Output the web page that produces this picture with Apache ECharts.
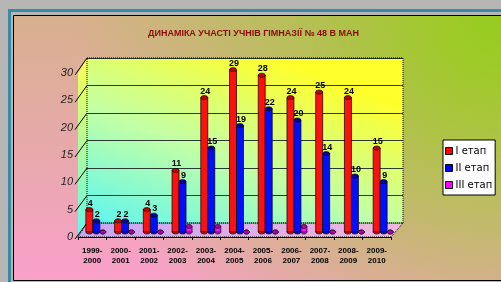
<!DOCTYPE html>
<html>
<head>
<meta charset="utf-8">
<script src="https://cdn.jsdelivr.net/npm/echarts@6/dist/echarts.min.js"></script>
<style>
  html, body { margin: 0; padding: 0; }
  #chart { width: 501px; height: 282px; }
</style>
</head>
<body>
<div id="chart"></div>
<script>
// навчальні роки та кількість учасників по етапах
var years = ['1999-2000', '2000-2001', '2001-2002', '2002-2003', '2003-2004', '2004-2005',
  '2005-2006', '2006-2007', '2007-2008', '2008-2009', '2009-2010'];
var stage1 = [4, 2, 4, 11, 24, 29, 28, 24, 25, 24, 15];
var stage2 = [2, 2, 3, 9, 15, 19, 22, 20, 14, 10, 9];
var stage3 = [0, 0, 0, 1, 1, 0, 0, 1, 0, 0, 0];
var seriesNames = ['I етап', 'II етап', 'III етап'];

var chart = echarts.init(document.getElementById('chart'));

// циліндр: тіло + верхня і нижня кришка
function cylinder(offset, width, body, top, withLabel) {
  return function (params, api) {
    var base = api.coord([api.value(0), 0]);
    var head = api.coord([api.value(0), api.value(1)]);
    var cx = base[0] + offset;
    var x = cx - width / 2;
    var kids = [
      { type: 'ellipse', shape: { cx: cx, cy: base[1], rx: width / 2, ry: 2 }, style: { fill: body, stroke: '#000', lineWidth: 0.7 } },
      { type: 'rect', shape: { x: x, y: head[1], width: width, height: base[1] - head[1] }, style: { fill: body, stroke: '#000', lineWidth: 0.7 } },
      { type: 'ellipse', shape: { cx: cx, cy: head[1], rx: width / 2, ry: 2 }, style: { fill: top, stroke: '#000', lineWidth: 0.7 } }
    ];
    if (withLabel) {
      kids.push({
        type: 'text', x: cx + 1, y: head[1] - 2,
        style: { text: String(api.value(1)), fill: '#000', align: 'center', verticalAlign: 'bottom',
          font: 'bold 9px "Liberation Sans", Arial, sans-serif' }
      });
    }
    return { type: 'group', children: kids };
  };
}

function pairs(arr) {
  return arr.map(function (v, i) { return [i, v]; });
}

var option = {
  animation: false,
  graphic: {
    elements: [
      { type: 'rect', id: 'bg0', z: -20, shape: { x: 0, y: 0, width: 501, height: 282 }, style: { fill: '#b6b6b6' } },
      { type: 'rect', id: 'bg1', z: -19, shape: { x: 9.5, y: 10.5, width: 600, height: 300 }, style: { fill: 'none', stroke: '#3a8aa6', lineWidth: 3 } },
      {
        type: 'rect', id: 'bg2', z: -18, shape: { x: 13.5, y: 15.5, width: 600, height: 265 },
        style: {
          fill: { type: 'linear', x: 0, y: 16, x2: 0, y2: 280, global: true,
            colorStops: [{ offset: 0, color: '#d8b08e' }, { offset: 0.6, color: '#eaa8b0' }, { offset: 1, color: '#faa0ca' }] },
          stroke: '#000', lineWidth: 1
        }
      },
      {
        type: 'rect', id: 'bg3', z: -17, shape: { x: 14, y: 16, width: 600, height: 264 },
        style: {
          fill: { type: 'radial', x: 501, y: 16, r: 430, global: true,
            colorStops: [{ offset: 0, color: 'rgba(150,204,30,1)' }, { offset: 0.15, color: 'rgba(155,204,34,0.92)' },
              { offset: 1, color: 'rgba(160,200,60,0)' }] }
        }
      },
      {
        type: 'text', id: 'title', left: 148, top: 29,
        style: { text: 'ДИНАМІКА УЧАСТІ УЧНІВ ГІМНАЗІЇ № 48 В МАН', fill: '#8a0c0c',
          font: 'bold 9px "Liberation Sans", Arial, sans-serif' }
      }
    ]
  },
  legend: {
    data: seriesNames,
    orient: 'vertical',
    left: 443,
    top: 140,
    backgroundColor: '#fff',
    borderColor: '#000',
    borderWidth: 1,
    borderRadius: 0,
    padding: [6, 3, 5, 2],
    icon: 'rect',
    itemWidth: 7,
    itemHeight: 7,
    itemGap: 7,
    itemStyle: { borderColor: '#000', borderWidth: 1 },
    textStyle: { fontSize: 10, color: '#000', fontFamily: '"DejaVu Sans", sans-serif', padding: [0, 0, 0, -2] }
  },
  grid: [
    { left: 78, right: 110, top: 73, bottom: 45 },
    {
      left: 87, right: 98, top: 58, bottom: 59, show: true, borderWidth: 0,
      backgroundColor: { type: 'linear', x: 0, y: 1, x2: 0.25, y2: -0.25,
        colorStops: [{ offset: 0, color: '#5ef6f0' }, { offset: 0.5, color: '#c4ffa4' }, { offset: 1, color: '#ffff2c' }] }
    },
    { left: 79, right: 106, top: 64, bottom: 50 }
  ],
  xAxis: [
    {
      type: 'category', gridIndex: 0, data: years,
      axisLine: { lineStyle: { color: '#000', width: 1 } },
      axisTick: { show: true, length: 3, lineStyle: { color: '#000' } },
      axisLabel: {
        interval: 0, margin: 9, color: '#000', fontSize: 8, fontWeight: 'bold', lineHeight: 10,
        fontFamily: '"Liberation Sans", Arial, sans-serif',
        formatter: function (v) { return v.replace('-', '-\n'); }
      }
    },
    { type: 'category', gridIndex: 1, data: years, show: false },
    { type: 'category', gridIndex: 2, data: years, show: false }
  ],
  yAxis: [
    {
      type: 'value', gridIndex: 0, min: 0, max: 30, interval: 5,
      axisLine: { show: true, lineStyle: { color: '#000', type: 'dotted' } },
      axisTick: { show: false },
      splitLine: { show: false },
      axisLabel: { margin: 5, color: '#222', fontSize: 11, fontStyle: 'italic',
        fontFamily: '"Liberation Sans", Arial, sans-serif' }
    },
    {
      type: 'value', gridIndex: 1, min: 0, max: 30, interval: 5,
      axisLine: { show: false }, axisTick: { show: false }, axisLabel: { show: false },
      splitLine: { show: true, lineStyle: { color: '#2a3a30', width: 1 } }
    },
    { type: 'value', gridIndex: 2, min: 0, max: 30, show: false, splitLine: { show: false } }
  ],
  series: [
    {
      name: seriesNames[0], type: 'custom', xAxisIndex: 2, yAxisIndex: 2, z: 5,
      itemStyle: { color: '#ff0000' },
      encode: { x: 0, y: 1 },
      renderItem: cylinder(-4, 7, '#ff1010', '#c80000', true),
      data: pairs(stage1)
    },
    {
      name: seriesNames[1], type: 'custom', xAxisIndex: 2, yAxisIndex: 2, z: 6,
      itemStyle: { color: '#0000ff' },
      encode: { x: 0, y: 1 },
      renderItem: cylinder(3, 7, '#0010ff', '#0000a8', true),
      data: pairs(stage2)
    },
    {
      name: seriesNames[2], type: 'custom', xAxisIndex: 2, yAxisIndex: 2, z: 7,
      itemStyle: { color: '#ff00ff' },
      encode: { x: 0, y: 1 },
      renderItem: cylinder(9.5, 6, '#ff10ff', '#b000b0', false),
      data: pairs(stage3)
    }
  ]
};

chart.setOption(option);

// бічна стінка, підлога та рамка задньої стінки за реальними координатами осей
var yF = function (v) { return chart.convertToPixel({ yAxisIndex: 0 }, v); };
var yB = function (v) { return chart.convertToPixel({ yAxisIndex: 1 }, v); };
var fL = 78, fR = 391, bL = 87, bR = 403;
var extra = [
  {
    type: 'polygon', id: 'side', z: 1,
    shape: { points: [[fL, yF(0)], [fL, yF(30)], [bL, yB(30)], [bL, yB(0)]] },
    style: { fill: { type: 'linear', x: 0, y: 0, x2: 0, y2: 1,
      colorStops: [{ offset: 0, color: '#fbff50' }, { offset: 1, color: '#66f6ea' }] } }
  },
  {
    type: 'polygon', id: 'floor', z: 1,
    shape: { points: [[fL, yF(0)], [fR, yF(0)], [bR, yB(0)], [bL, yB(0)]] },
    style: { fill: { type: 'linear', x: 0, y: 0, x2: 1, y2: 0,
      colorStops: [{ offset: 0, color: '#c8a4f4' }, { offset: 1, color: '#f0b8dc' }] },
      stroke: '#000', lineWidth: 1, lineDash: [1, 1] }
  },
  {
    type: 'rect', id: 'wallBorder', z: 2,
    shape: { x: bL, y: yB(30), width: bR - bL, height: yB(0) - yB(30) },
    style: { fill: 'none', stroke: '#000', lineWidth: 1, lineDash: [1, 1] }
  }
];
for (var v = 0; v <= 30; v += 5) {
  extra.push({
    type: 'line', id: 'slant' + v, z: 2,
    shape: { x1: fL - 3, y1: yF(v) + 2, x2: bL, y2: yB(v) },
    style: { stroke: '#000', lineWidth: 1 }
  });
}
chart.setOption({ graphic: { elements: extra } });
</script>
</body>
</html>
